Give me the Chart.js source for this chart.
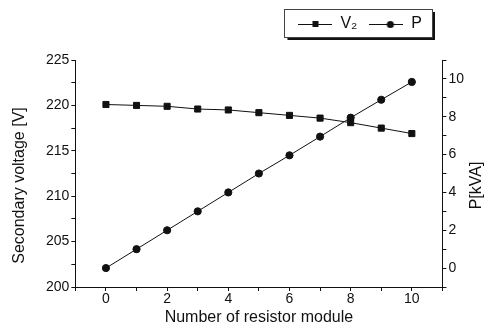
<!DOCTYPE html>
<html>
<head>
<meta charset="utf-8">
<script src="https://cdn.jsdelivr.net/npm/chart.js@4/dist/chart.umd.min.js"></script>
<style>
  html, body { margin: 0; padding: 0; background: #fff; }
  #wrap { width: 488px; height: 329px; }
</style>
</head>
<body>
<div id="wrap"><canvas id="grafico" width="488" height="329"></canvas></div>
<script>
// data
const modules = [0, 1, 2, 3, 4, 5, 6, 7, 8, 9, 10];
const voltageV2 = [220.1, 220.0, 219.9, 219.6, 219.5, 219.2, 218.9, 218.6, 218.1, 217.5, 216.9];
const powerP = [0, 1.0, 2.0, 3.0, 4.0, 5.0, 5.96, 6.95, 7.95, 8.9, 9.84];
const xTickLabels = [0, 2, 4, 6, 8, 10];
const leftTickLabels = [200, 205, 210, 215, 220, 225];
const rightTickLabels = [0, 2, 4, 6, 8, 10];

const negro = "#111";
const fuente = "'Liberation Sans', Arial, sans-serif";

// small picture for legend: line with marker in middle
function muestra(tipo) {
  const c = document.createElement("canvas");
  c.width = 34;
  c.height = 12;
  const ctx = c.getContext("2d");
  ctx.strokeStyle = negro;
  ctx.lineWidth = 1;
  ctx.beginPath();
  ctx.moveTo(0, 6.5);
  ctx.lineTo(34, 6.5);
  ctx.stroke();
  ctx.fillStyle = negro;
  if (tipo === "rect") {
    ctx.fillRect(14, 3, 6, 6);
  } else {
    ctx.beginPath();
    ctx.arc(21, 6.5, 3.6, 0, Math.PI * 2);
    ctx.fill();
  }
  return c;
}

const iconos = [muestra("rect"), muestra("circle")];

const pares = (xs, ys) => xs.map((x, i) => ({ x: x, y: ys[i] }));

const corrimiento = 32;

const extras = {
  id: "extras",
  beforeInit(chart) {
    const fit = chart.legend.fit;
    chart.legend.fit = function () {
      fit.bind(chart.legend)();
      this.height += 18;
    };
  },
  afterUpdate(chart) {
    // move legend a bit to the left
    chart.legend.right -= corrimiento;
    chart.legend.legendHitBoxes.forEach((b) => (b.left -= corrimiento));
  },
  afterDraw(chart) {
    const ctx = chart.ctx;
    const area = chart.chartArea;
    // legend frame with shadow
    const cajas = chart.legend.legendHitBoxes;
    if (cajas && cajas.length) {
      let x0 = Math.min(...cajas.map((b) => b.left)) - 14;
      let x1 = Math.max(...cajas.map((b) => b.left + b.width)) + 10;
      let y0 = Math.min(...cajas.map((b) => b.top)) - 7;
      let y1 = Math.max(...cajas.map((b) => b.top + b.height)) + 5;
      ctx.save();
      ctx.fillStyle = negro;
      ctx.fillRect(x0 + 3, y1, x1 - x0, 3);
      ctx.fillRect(x1, y0 + 3, 3, y1 - y0);
      ctx.strokeStyle = "#444";
      ctx.lineWidth = 1;
      ctx.strokeRect(Math.round(x0) + 0.5, Math.round(y0) + 0.5, Math.round(x1 - x0), Math.round(y1 - y0));
      ctx.restore();
    }
    // axis titles, both read bottom to top
    const mid = (area.top + area.bottom) / 2 + 12;
    ctx.save();
    ctx.fillStyle = negro;
    ctx.font = "16px " + fuente;
    ctx.textAlign = "center";
    ctx.textBaseline = "middle";
    ctx.translate(chart.scales.y.right - 56, mid);
    ctx.rotate(-Math.PI / 2);
    ctx.fillText("Secondary voltage [V]", 0, 0);
    ctx.restore();
    ctx.save();
    ctx.fillStyle = negro;
    ctx.font = "16px " + fuente;
    ctx.textAlign = "center";
    ctx.textBaseline = "middle";
    ctx.translate(chart.scales.y2.left + 34, mid);
    ctx.rotate(-Math.PI / 2);
    ctx.fillText("P[kVA]", 0, 0);
    ctx.restore();
  },
};

const ejeComun = {
  grid: { display: true, drawOnChartArea: false, drawTicks: true, tickLength: 4, color: negro, tickColor: negro },
  border: { display: true, color: negro, width: 1 },
};

new Chart(document.getElementById("grafico"), {
  type: "line",
  data: {
    datasets: [
      {
        label: "V\u2082",
        data: pares(modules, voltageV2),
        yAxisID: "y",
        borderColor: negro,
        backgroundColor: negro,
        borderWidth: 1,
        pointStyle: "rect",
        pointRadius: 4.3,
        tension: 0,
      },
      {
        label: "P",
        data: pares(modules, powerP),
        yAxisID: "y2",
        borderColor: negro,
        backgroundColor: negro,
        borderWidth: 1,
        pointStyle: "circle",
        pointRadius: 3.6,
        tension: 0,
      },
    ],
  },
  options: {
    responsive: false,
    animation: false,
    layout: { padding: { left: 44, right: 22, top: 4, bottom: 2 } },
    plugins: {
      tooltip: { enabled: false },
      legend: {
        position: "top",
        align: "end",
        labels: {
          color: negro,
          font: { family: fuente, size: 16 },
          usePointStyle: true,
          pointStyleWidth: 34,
          padding: 12,
          generateLabels: (chart) =>
            chart.data.datasets.map((ds, i) => ({
              text: ds.label,
              pointStyle: iconos[i],
              fontColor: negro,
              strokeStyle: negro,
              fillStyle: negro,
              lineWidth: 0,
              datasetIndex: i,
            })),
        },
      },
    },
    scales: {
      x: {
        type: "linear",
        min: -1,
        max: 11,
        ...ejeComun,
        ticks: {
          stepSize: 1,
          autoSkip: false,
          maxRotation: 0,
          padding: 0,
          color: negro,
          font: { family: fuente, size: 14 },
          callback: (v) => (xTickLabels.includes(v) ? String(v) : ""),
        },
        title: {
          display: true,
          text: "Number of resistor module",
          color: negro,
          font: { family: fuente, size: 16 },
          padding: 0,
        },
      },
      y: {
        position: "left",
        min: 200,
        max: 225,
        ...ejeComun,
        ticks: {
          stepSize: 2.5,
          autoSkip: false,
          padding: 2,
          color: negro,
          font: { family: fuente, size: 14 },
          callback: (v) => (leftTickLabels.includes(v) ? String(v) : ""),
        },
      },
      y2: {
        position: "right",
        min: -1,
        max: 11,
        ...ejeComun,
        ticks: {
          stepSize: 1,
          autoSkip: false,
          padding: 2,
          color: negro,
          font: { family: fuente, size: 14 },
          callback: (v) => (rightTickLabels.includes(v) ? String(v) : ""),
        },
      },
    },
  },
  plugins: [extras],
});
</script>
</body>
</html>
